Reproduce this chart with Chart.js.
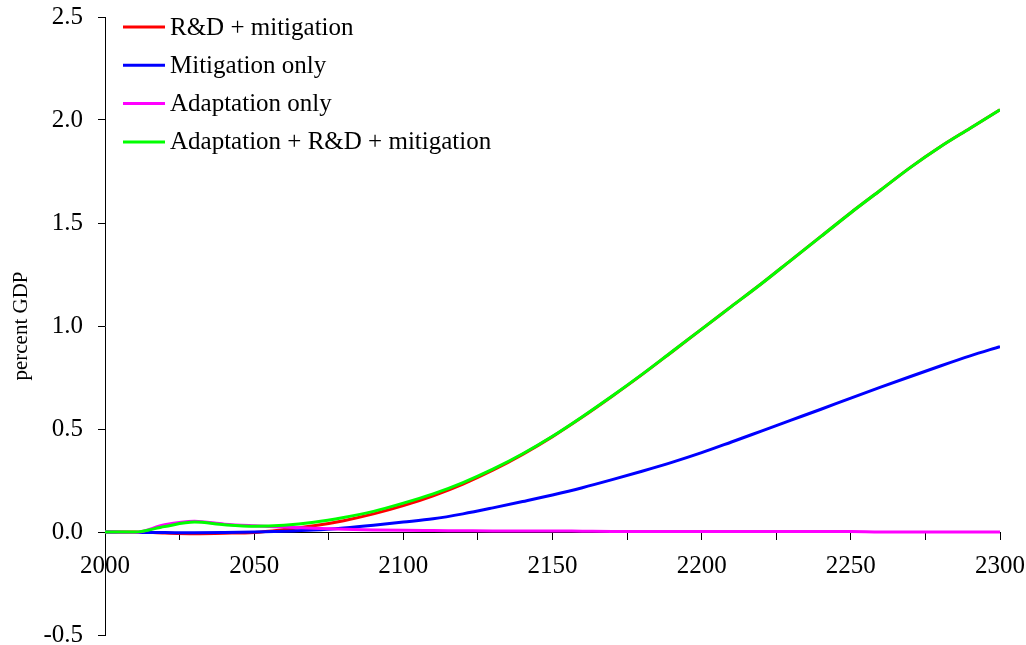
<!DOCTYPE html>
<html>
<head>
<meta charset="utf-8">
<script src="https://cdn.jsdelivr.net/npm/chart.js@4/dist/chart.umd.min.js"></script>
<style>
  html, body { margin: 0; padding: 0; background: #fff; }
  #wrap { width: 1026px; height: 645px; }
</style>
</head>
<body>
<div id="wrap"><canvas id="chart" width="1026" height="645"></canvas></div>
<script>
// -------------------------------
// DATA
// -------------------------------
const years = [2000, 2010, 2020, 2030, 2040, 2050, 2060, 2070, 2080, 2090,
               2100, 2110, 2120, 2130, 2140, 2150, 2160, 2170, 2180, 2190,
               2200, 2210, 2220, 2230, 2240, 2250, 2260, 2270, 2280, 2290, 2300];

const rdMitigation = [0, 0, -0.005, -0.008, -0.006, -0.002, 0.012, 0.03, 0.055, 0.088,
                      0.128, 0.176, 0.233, 0.3, 0.377, 0.463, 0.558, 0.659, 0.764, 0.874,
                      0.985, 1.095, 1.205, 1.32, 1.435, 1.55, 1.66, 1.77, 1.87, 1.96, 2.05];

const mitigationOnly = [0, -0.002, -0.003, -0.004, -0.003, 0, 0.004, 0.01, 0.02, 0.033,
                        0.048, 0.064, 0.088, 0.117, 0.148, 0.18, 0.215, 0.254, 0.295, 0.338,
                        0.385, 0.437, 0.49, 0.543, 0.596, 0.65, 0.703, 0.755, 0.806, 0.855, 0.9];

const adaptationOnly = [0, -0.003, 0.035, 0.052, 0.038, 0.03, 0.024, 0.018, 0.013, 0.01,
                        0.008, 0.007, 0.006, 0.005, 0.005, 0.005, 0.004, 0.003, 0.003, 0.003,
                        0.003, 0.002, 0.002, 0.002, 0.002, 0.002, 0, 0, 0, 0, 0];

const adaptRdMitigation = [0, 0, 0.027, 0.048, 0.035, 0.028, 0.033, 0.047, 0.07, 0.1,
                           0.14, 0.185, 0.24, 0.305, 0.38, 0.465, 0.56, 0.66, 0.765, 0.875,
                           0.985, 1.095, 1.205, 1.32, 1.435, 1.55, 1.66, 1.77, 1.87, 1.96, 2.05];

const seriesNames = ["R&D + mitigation", "Mitigation only", "Adaptation only", "Adaptation + R&D + mitigation"];
const seriesColors = ["#ff0000", "#0000ff", "#ff00ff", "#00ff00"];

const yTicks = [-0.5, 0, 0.5, 1.0, 1.5, 2.0, 2.5];
const xLabelYears = [2000, 2050, 2100, 2150, 2200, 2250, 2300];

const FONT = "'Liberation Serif', 'Times New Roman', serif";

// -------------------------------
// LEGEND (top-left, inside plot)
// -------------------------------
const legendPlugin = {
  id: "insideLegend",
  afterDatasetsDraw(chart) {
    const ctx = chart.ctx;
    const left = chart.chartArea.left;
    const top = chart.chartArea.top;
    ctx.save();
    ctx.font = "25px " + FONT;
    ctx.textBaseline = "middle";
    ctx.fillStyle = "#000";
    seriesNames.forEach((name, i) => {
      const y = top + 10 + i * 38.3;
      ctx.strokeStyle = seriesColors[i];
      ctx.lineWidth = 3;
      ctx.beginPath();
      ctx.moveTo(left + 18, y);
      ctx.lineTo(left + 60, y);
      ctx.stroke();
      ctx.fillText(name, left + 65, y + 1);
    });
    ctx.restore();
  }
};

// -------------------------------
// CHART
// -------------------------------
const toPoints = vals => years.map((yr, i) => ({ x: yr, y: vals[i] }));
const allSeries = [rdMitigation, mitigationOnly, adaptationOnly, adaptRdMitigation];
const drawOrder = [4, 3, 2, 1];

new Chart(document.getElementById("chart"), {
  type: "line",
  data: {
    datasets: allSeries.map((vals, i) => ({
      label: seriesNames[i],
      data: toPoints(vals),
      borderColor: seriesColors[i],
      backgroundColor: seriesColors[i],
      borderWidth: 3,
      pointRadius: 0,
      cubicInterpolationMode: "monotone",
      order: drawOrder[i]
    }))
  },
  options: {
    responsive: false,
    animation: false,
    layout: { padding: { top: 17, right: 26, bottom: 10, left: 0 } },
    plugins: {
      legend: { display: false },
      tooltip: { enabled: false }
    },
    scales: {
      x: {
        type: "linear",
        position: { y: 0 },
        min: 2000,
        max: 2300,
        afterFit: s => { s.paddingLeft = 0; s.paddingRight = 0; },
        border: { display: true, color: "#000", width: 1 },
        grid: { drawOnChartArea: false, drawTicks: true, tickLength: 7, color: "#000" },
        ticks: {
          stepSize: 25,
          autoSkip: false,
          maxRotation: 0,
          padding: 12,
          color: "#000",
          font: { family: FONT, size: 25 },
          callback: v => (xLabelYears.includes(v) ? String(v) : "")
        }
      },
      y: {
        min: -0.5,
        max: 2.5,
        afterFit: s => { s.width = 105; s.paddingTop = 0; s.paddingBottom = 0; },
        afterBuildTicks: s => { s.ticks = yTicks.map(v => ({ value: v })); },
        border: { display: true, color: "#000", width: 1 },
        grid: { drawOnChartArea: false, drawTicks: true, tickLength: 7, color: "#000" },
        title: {
          display: true,
          text: "percent GDP",
          color: "#000",
          font: { family: FONT, size: 21 },
          padding: { top: 9, bottom: 0 }
        },
        ticks: {
          padding: 15,
          color: "#000",
          font: { family: FONT, size: 25 },
          callback: v => v.toFixed(1)
        }
      }
    }
  },
  plugins: [legendPlugin]
});
</script>
</body>
</html>
